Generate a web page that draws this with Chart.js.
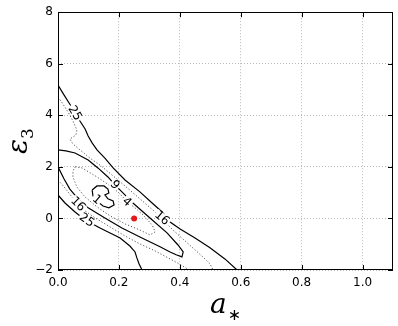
<!DOCTYPE html>
<html>
<head>
<meta charset="utf-8">
<script src="https://cdn.jsdelivr.net/npm/chart.js@4.4.1/dist/chart.umd.min.js"></script>
<style>
  html, body { margin: 0; padding: 0; background: #fff; }
  #wrap { width: 398px; height: 326px; }
</style>
</head>
<body>
<div id="wrap"><canvas id="myChart"></canvas></div>
<script>
// contour values, [a*, eps3]
const xTicks = [0.0, 0.2, 0.4, 0.6, 0.8, 1.0];
const yTicks = [-2, 0, 2, 4, 6, 8];

// solid, outer upper branch (25 / 16)
const solidOuter = [[0,5.17],[0.016,4.86],[0.039,4.43],[0.056,4.12],[0.072,3.78],[0.089,3.47],[0.099,3.20],
    [0.112,2.93],[0.128,2.66],[0.154,2.34],[0.181,1.96],[0.220,1.49],[0.269,1.03],[0.309,0.60],[0.342,0.25],
    [0.368,-0.14],[0.401,-0.41],[0.450,-0.76],[0.499,-1.14],[0.548,-1.57],[0.588,-2.0]];

// dotted, upper branch (16)
const dottedUpper = [[0,4.71],[0.016,4.44],[0.033,4.13],[0.049,3.78],[0.062,3.43],[0.059,3.24],[0.039,3.08],
    [0.049,2.89],[0.072,2.66],[0.105,2.34],[0.138,2.07],[0.181,1.65],[0.220,1.26],[0.269,0.76],[0.319,0.25],
    [0.351,-0.14],[0.384,-0.52],[0.417,-0.87],[0.450,-1.22],[0.479,-1.53],[0.499,-1.76],[0.509,-2.0]];

// solid loop (9)
const solidNine = [[0,2.66],[0.026,2.62],[0.056,2.54],[0.099,2.27],[0.131,1.96],[0.164,1.61],[0.187,1.30],
    [0.210,1.03],[0.246,0.60],[0.302,0.02],[0.358,-0.56],[0.394,-1.03],[0.411,-1.30],[0.407,-1.49],
    [0.388,-1.41],[0.368,-1.30],[0.335,-1.10],[0.269,-0.72],[0.210,-0.37],[0.154,0.02],[0.099,0.41],
    [0.066,0.76],[0.039,1.14],[0.020,1.53],[0,2.0]];

// dotted closed loop (4)
const dottedFour = [[0.056,2.0],[0.079,1.96],[0.128,1.61],[0.177,1.22],[0.204,0.95],[0.227,0.64],[0.253,0.41],
    [0.279,0.14],[0.309,-0.25],[0.319,-0.52],[0.302,-0.64],[0.269,-0.45],[0.220,-0.21],[0.171,0.10],
    [0.128,0.45],[0.089,0.83],[0.062,1.22],[0.049,1.61],[0.049,1.84],[0.056,2.0]];

// solid small loop (1)
const solidOne = [[0.112,1.10],[0.128,1.26],[0.151,1.26],[0.164,1.14],[0.167,0.99],[0.154,0.91],[0.164,0.76],
    [0.181,0.68],[0.184,0.52],[0.167,0.41],[0.148,0.48],[0.131,0.64],[0.115,0.87],[0.112,1.10]];

// dotted, lower branch (16)
const dottedLower = [[0,1.49],[0.023,1.18],[0.046,0.83],[0.066,0.56],[0.089,0.29],[0.122,0.02],[0.171,-0.33],
    [0.220,-0.68],[0.269,-0.99],[0.319,-1.26],[0.368,-1.57],[0.404,-1.80],[0.430,-2.0]];

// solid, lower branch (25)
const solidLower = [[0,0.91],[0.023,0.60],[0.056,0.25],[0.089,-0.06],[0.138,-0.37],[0.204,-0.76],[0.236,-1.07],
    [0.253,-1.30],[0.259,-1.53],[0.266,-1.76],[0.276,-2.0]];

const truePoint = [[0.25, 0]];

// contour labels: text, x, y, angle in degrees
const labelText = ['25', '9', '4', '1', '16', '16', '25'];
const labelX = [0.056, 0.187, 0.227, 0.128, 0.342, 0.066, 0.095];
const labelY = [4.09, 1.30, 0.64, 0.74, 0.02, 0.56, -0.06];
const labelAngle = [60, 47, 42, 40, 40, 45, 35];

const toPts = arr => arr.map(p => ({x: p[0], y: p[1]}));

function solid(arr) {
    return {data: toPts(arr), showLine: true, borderColor: '#000', borderWidth: 1.2,
        pointRadius: 0, fill: false, tension: 0};
}
function dotted(arr) {
    return {data: toPts(arr), showLine: true, borderColor: '#555', borderWidth: 1,
        borderDash: [1.2, 2], pointRadius: 0, fill: false, tension: 0};
}

const labelPlugin = {
    id: 'contourLabels',
    afterDatasetsDraw(chart) {
        const ctx = chart.ctx;
        const xs = chart.scales.x, ys = chart.scales.y;
        ctx.save();
        ctx.font = '12px "DejaVu Sans"';
        ctx.textAlign = 'center';
        ctx.textBaseline = 'middle';
        for (let i = 0; i < labelText.length; i++) {
            const px = xs.getPixelForValue(labelX[i]);
            const py = ys.getPixelForValue(labelY[i]);
            const w = ctx.measureText(labelText[i]).width;
            ctx.save();
            ctx.translate(px, py);
            ctx.rotate(labelAngle[i] * Math.PI / 180);
            ctx.fillStyle = '#fff';
            ctx.fillRect(-w / 2 - 1, -4.5, w + 2, 9);
            ctx.fillStyle = '#000';
            ctx.fillText(labelText[i], 0, 0.5);
            ctx.restore();
        }
        // red marker on top
        const rx = xs.getPixelForValue(truePoint[0][0]);
        const ry = ys.getPixelForValue(truePoint[0][1]);
        ctx.fillStyle = '#e41a1c';
        ctx.beginPath();
        ctx.arc(rx, ry, 3, 0, Math.PI * 2);
        ctx.fill();
        ctx.restore();
    }
};

const framePlugin = {
    id: 'frame',
    afterDraw(chart) {
        const ctx = chart.ctx;
        const a = chart.chartArea;
        const xs = chart.scales.x, ys = chart.scales.y;
        ctx.save();
        ctx.strokeStyle = '#000';
        ctx.lineWidth = 1;
        ctx.strokeRect(Math.round(a.left) + 0.5, Math.round(a.top) + 0.5,
            Math.round(a.right - a.left) - 1, Math.round(a.bottom - a.top) - 1);
        // inward tick marks on all four sides
        ctx.beginPath();
        xTicks.forEach(v => {
            const px = Math.round(xs.getPixelForValue(v)) + 0.5;
            ctx.moveTo(px, a.bottom); ctx.lineTo(px, a.bottom - 5);
            ctx.moveTo(px, a.top); ctx.lineTo(px, a.top + 5);
        });
        yTicks.forEach(v => {
            const py = Math.round(ys.getPixelForValue(v)) + 0.5;
            ctx.moveTo(a.left, py); ctx.lineTo(a.left + 5, py);
            ctx.moveTo(a.right, py); ctx.lineTo(a.right - 5, py);
        });
        ctx.stroke();

        // axis titles
        ctx.fillStyle = '#000';
        ctx.textBaseline = 'alphabetic';
        ctx.font = 'italic 28px "DejaVu Serif"';
        const aw = ctx.measureText('a').width;
        ctx.font = '16px "DejaVu Sans"';
        const sw = ctx.measureText('\u2217').width;
        const cx = (a.left + a.right) / 2;
        let x0 = cx - (aw + sw + 1) / 2;
        ctx.font = 'italic 28px "DejaVu Serif"';
        ctx.textAlign = 'left';
        ctx.fillText('a', x0, 313);
        ctx.font = '16px "DejaVu Sans"';
        ctx.fillText('\u2217', x0 + aw + 1, 320);

        ctx.save();
        ctx.translate(27, (a.top + a.bottom) / 2);
        ctx.rotate(-Math.PI / 2);
        ctx.font = 'italic 28px "DejaVu Serif"';
        const ew = ctx.measureText('\u03b5').width;
        ctx.font = '17px "DejaVu Serif"';
        const tw = ctx.measureText('3').width;
        x0 = -(ew + tw) / 2;
        ctx.font = 'italic 28px "DejaVu Serif"';
        ctx.fillText('\u03b5', x0, 0);
        ctx.font = '17px "DejaVu Serif"';
        ctx.fillText('3', x0 + ew, 6);
        ctx.restore();
        ctx.restore();
    }
};

const gridOpts = {
    color: 'rgba(0,0,0,0.28)',
    drawTicks: false
};

const config = {
    type: 'scatter',
    data: {
        datasets: [
            solid(solidOuter),
            dotted(dottedUpper),
            solid(solidNine),
            dotted(dottedFour),
            solid(solidOne),
            dotted(dottedLower),
            solid(solidLower)
        ]
    },
    options: {
        responsive: true,
        maintainAspectRatio: false,
        animation: false,
        layout: {padding: {top: 12, right: 5, left: 0, bottom: 0}},
        plugins: {
            legend: {display: false},
            tooltip: {enabled: false}
        },
        scales: {
            x: {
                type: 'linear',
                min: 0,
                max: 1.1,
                afterFit: axis => { axis.height = 56; },
                border: {display: false, dash: [1, 2]},
                grid: gridOpts,
                ticks: {
                    stepSize: 0.2,
                    includeBounds: false,
                    padding: 6,
                    color: '#000',
                    font: {family: 'DejaVu Sans', size: 12},
                    callback: v => Number(v).toFixed(1)
                }
            },
            y: {
                type: 'linear',
                min: -2,
                max: 8,
                afterFit: axis => { axis.width = 58; },
                border: {display: false, dash: [1, 2]},
                grid: gridOpts,
                ticks: {
                    stepSize: 2,
                    padding: 5,
                    color: '#000',
                    font: {family: 'DejaVu Sans', size: 12},
                    callback: v => v < 0 ? '\u2212' + Math.abs(v) : String(v)
                }
            }
        }
    },
    plugins: [labelPlugin, framePlugin]
};

const myChart = new Chart(
    document.getElementById('myChart'),
    config
);
</script>
</body>
</html>
